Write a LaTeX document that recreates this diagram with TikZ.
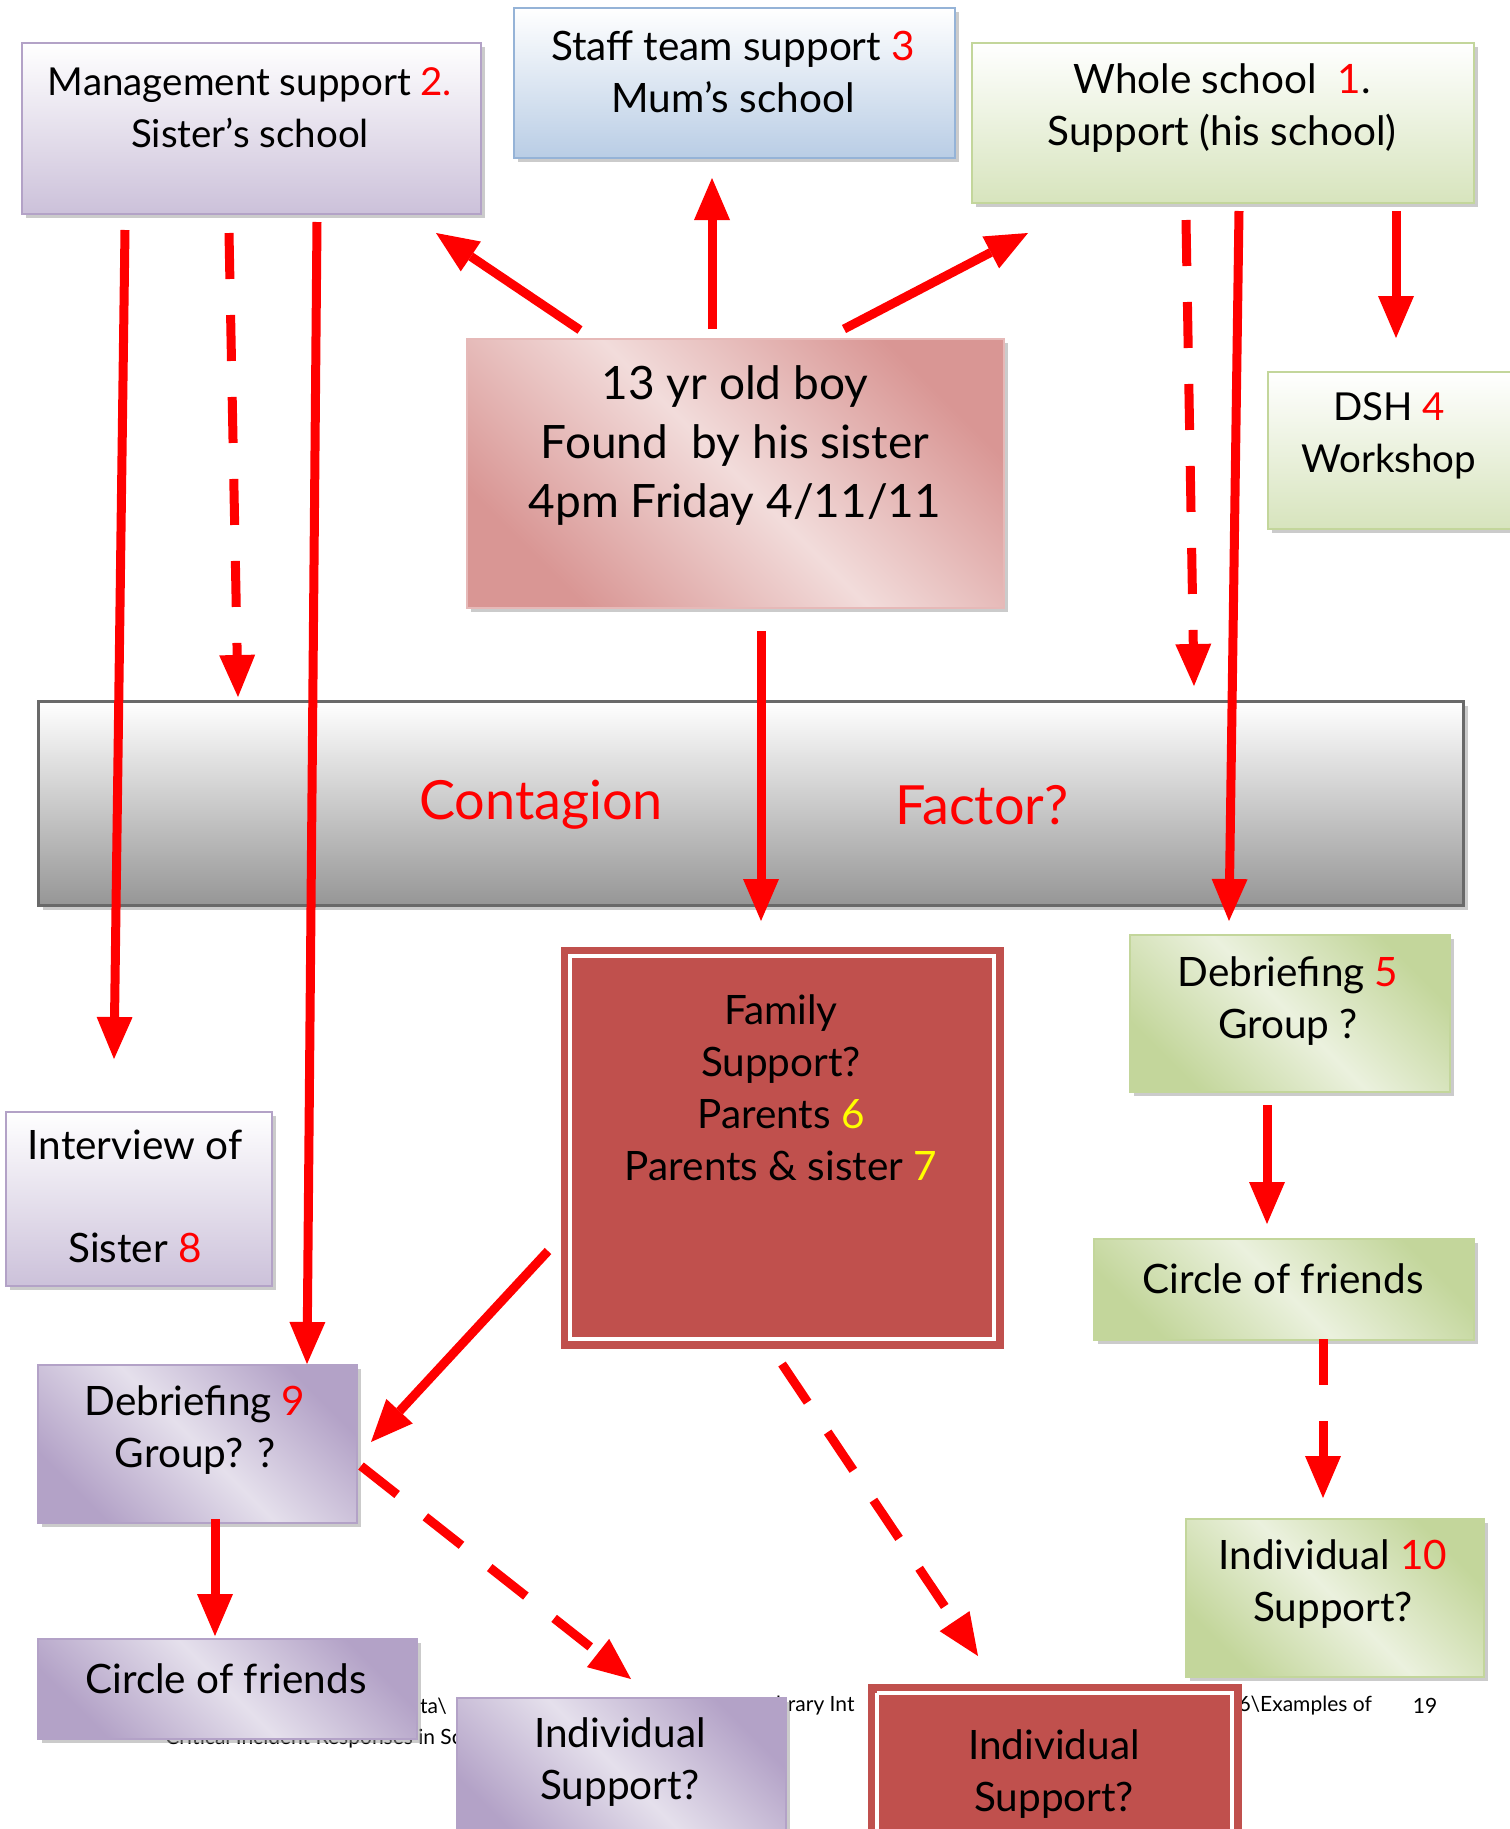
\documentclass[tikz,border=0pt]{standalone}
\usepackage{fontspec}
\setmainfont{Lato}
\usetikzlibrary{arrows.meta,shadows}
\definecolor{purpL}{RGB}{204,193,218}
\definecolor{purpD}{RGB}{179,162,199}
\definecolor{purpM}{RGB}{229,224,236}
\definecolor{purpB}{RGB}{179,162,199}
\definecolor{blueL}{RGB}{185,205,229}
\definecolor{blueB}{RGB}{149,179,215}
\definecolor{greenL}{RGB}{215,228,189}
\definecolor{greenD}{RGB}{195,214,155}
\definecolor{greenM}{RGB}{235,241,222}
\definecolor{greenB}{RGB}{195,214,155}
\definecolor{pinkD}{RGB}{217,150,148}
\definecolor{pinkM}{RGB}{242,220,219}
\definecolor{pinkB}{RGB}{230,185,184}
\definecolor{grayD}{RGB}{150,150,150}
\definecolor{grayB}{RGB}{105,105,105}
\definecolor{boxred}{RGB}{192,80,77}
\definecolor{arred}{RGB}{255,0,0}
\definecolor{numred}{RGB}{255,0,0}
\definecolor{numyel}{RGB}{255,255,0}
\tikzset{
  boxbase/.style={anchor=north west, inner sep=0pt, line width=2pt,
    drop shadow={shadow xshift=4pt, shadow yshift=-4pt, fill=black!40}},
  purplev/.style={boxbase, draw=purpB, top color=white, bottom color=purpL},
  purpled/.style={boxbase, draw=purpB, top color=purpD, bottom color=purpD, middle color=purpM, shading angle=-45},
  bluev/.style={boxbase, draw=blueB, top color=white, bottom color=blueL},
  greenv/.style={boxbase, draw=greenB, top color=white, bottom color=greenL},
  greend/.style={boxbase, draw=greenB, top color=greenD, bottom color=greenD, middle color=greenM, shading angle=-45},
  pinkd/.style={boxbase, draw=pinkB, top color=pinkD, bottom color=pinkD, middle color=pinkM, shading angle=-45},
  grayv/.style={boxbase, draw=grayB, line width=3pt, top color=white, bottom color=grayD},
  redbox/.style={anchor=north west, inner sep=0pt, fill=boxred, draw=boxred},
  whiteframe/.style={draw=white, line width=4pt},
  txt/.style={align=center, inner sep=0pt, font=\fontsize{40.5}{52}\selectfont},
  smtxt/.style={align=center, inner sep=0pt, font=\fontsize{38.5}{52}\selectfont},
  bigtxt/.style={align=center, inner sep=0pt, font=\fontsize{46}{59}\selectfont},
  redtxt/.style={inner sep=0pt, text=numred, font=\fontsize{54}{60}\selectfont},
  foot/.style={inner sep=0pt, font=\fontsize{21}{24}\selectfont},
  arr/.style={draw=arred, line width=9pt, -{Triangle[length=42pt,width=36pt,line width=0pt]}},
  darr/.style={arr, dash pattern=on 46pt off 36pt},
}
\newcommand{\rn}[1]{\textcolor{numred}{#1}}
\newcommand{\yn}[1]{\textcolor{numyel}{#1}}
\begin{document}
\begin{tikzpicture}[x=1pt,y=-1pt]
\useasboundingbox (0,0) rectangle (1510,1829);
\clip (0,0) rectangle (1510,1829);
\fill[white] (0,0) rectangle (1510,1829);

% footer fragments (partly hidden behind the boxes)
\node[foot, anchor=west] (f1) at (420,1706) {ta\textbackslash};
\node[foot, anchor=west] (f2) at (776,1706) {brary Int};
\node[foot, anchor=east] (f3) at (1372,1706) {6\textbackslash Examples of};
\node[foot] (f4) at (1425,1706) {19};
\node[foot, anchor=east] (f5) at (462,1739) {Critical Incident Responses in Sc};

% boxes
\node[purplev, minimum width=459pt, minimum height=171pt] (mgmt) at (21,42) {};
\node[bluev, minimum width=441pt, minimum height=150pt] (staff) at (513,7) {};
\node[greenv, minimum width=502pt, minimum height=160pt] (whole) at (971,42) {};
\node[greenv, minimum width=250pt, minimum height=157pt] (dsh) at (1267,371) {};
\node[pinkd, minimum width=537pt, minimum height=269pt] (center) at (466,338) {};
\node[grayv, minimum width=1425pt, minimum height=204pt] (bar) at (37,700) {};
\node[redbox, minimum width=442pt, minimum height=401pt] (family) at (561,947) {};
\draw[whiteframe] ([shift={(9,9)}]family.north west) rectangle ([shift={(-9,-9)}]family.south east);
\node[greend, minimum width=320pt, minimum height=157pt] (deb5) at (1129,934) {};
\node[greend, minimum width=380pt, minimum height=101pt] (circR) at (1093,1238) {};
\node[greend, minimum width=298pt, minimum height=158pt] (ind10) at (1185,1518) {};
\node[purplev, minimum width=266pt, minimum height=174pt] (interview) at (5,1111) {};
\node[purpled, minimum width=319pt, minimum height=158pt] (deb9) at (37,1364) {};
\node[purpled, minimum width=379pt, minimum height=100pt] (circL) at (37,1638) {};
\node[purpled, minimum width=329pt, minimum height=150pt] (indP) at (456,1697) {};
\node[redbox, minimum width=373pt, minimum height=170pt] (indR) at (868,1684) {};
\draw[whiteframe] ([shift={(9,9)}]indR.north west) -- ([shift={(9,160)}]indR.north west)
  ([shift={(9,9)}]indR.north west) -- ([shift={(364,9)}]indR.north west) -- ([shift={(364,160)}]indR.north west);

% texts
\node[smtxt] (mgmtT) at (250,108) {Management support \rn{2.}\\Sister’s school};
\node[txt] (staffT) at (733,72) {Staff team support \rn{3}\\Mum’s school};
\node[txt] (wholeT) at (1222,108) {Whole school\ \ \rn{1}.\\Support (his school)};
\node[smtxt] (dshT) at (1389,436) {DSH \rn{4}\\Workshop};
\node[bigtxt] (centerT) at (735,445) {13 yr old boy\\Found\ \ by his sister\\4pm Friday 4/11/11};
\node[redtxt] (contT) at (541,805) {Contagion};
\node[redtxt] (factT) at (982,805) {Factor?};
\node[txt] (familyT) at (781,1088) {Family\\Support?\\Parents \yn{6}\\Parents \& sister \yn{7}};
\node[txt] (deb5T) at (1288,1001) {Debriefing \rn{5}\\Group ?};
\node[txt] (circRT) at (1283,1279) {Circle of friends};
\node[txt] (ind10T) at (1333,1584) {Individual \rn{10}\\Support?};
\node[txt] (intT1) at (135,1145) {Interview of};
\node[txt] (intT2) at (135,1248) {Sister \rn{8}};
\node[txt] (deb9T) at (195,1430) {Debriefing \rn{9}\\Group? ?};
\node[txt] (circLT) at (226,1679) {Circle of friends};
\node[txt] (indPT) at (620,1762) {Individual\\Support?};
\node[txt] (indRT) at (1054,1774) {Individual\\Support?};

% connectors
\draw[arr] ([shift={(114,-8)}]center.north west) -- ([shift={(415,191)}]mgmt.north west);
\draw[arr] ([shift={(246,-9)}]center.north west) -- ([shift={(199,171)}]staff.north west);
\draw[arr] ([shift={(378,-9)}]center.north west) -- ([shift={(57,191)}]whole.north west);
\draw[arr] ([shift={(104,188)}]mgmt.north west) -- ([shift={(109,-52)}]interview.north west);
\draw[darr] ([shift={(208,191)}]mgmt.north west) -- ([shift={(201,-3)}]bar.north west);
\draw[arr] ([shift={(296,180)}]mgmt.north west) -- ([shift={(270,0)}]deb9.north west);
\draw[darr] ([shift={(215,178)}]whole.north west) -- ([shift={(1157,-14)}]bar.north west);
\draw[arr] ([shift={(268,169)}]whole.north west) -- ([shift={(100,-13)}]deb5.north west);
\draw[arr] ([shift={(425,169)}]whole.north west) -- ([shift={(129,-33)}]dsh.north west);
\draw[arr] ([shift={(295,293)}]center.north west) -- ([shift={(200,-26)}]family.north west);
\draw[arr] ([shift={(138,171)}]deb5.north west) -- ([shift={(174,-14)}]circR.north west);
\draw[darr] ([shift={(230,101)}]circR.north west) -- ([shift={(138,-20)}]ind10.north west);
\draw[arr] ([shift={(-13,304)}]family.north west) -- ([shift={(334,78)}]deb9.north west);
\draw[darr] ([shift={(324,102)}]deb9.north west) -- ([shift={(175,-18)}]indP.north west);
\draw[darr] ([shift={(221,417)}]family.north west) -- ([shift={(110,-28)}]indR.north west);
\draw[arr] ([shift={(178,155)}]deb9.north west) -- ([shift={(178,-2)}]circL.north west);
\end{tikzpicture}
\end{document}
